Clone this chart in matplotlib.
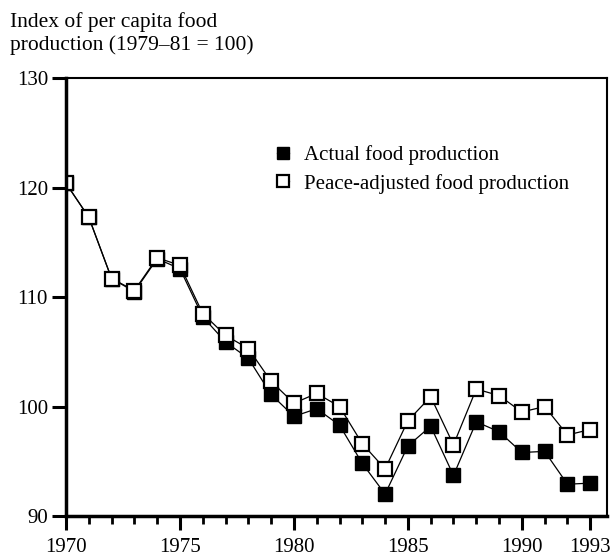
import numpy as np
import matplotlib
matplotlib.use('Agg')
import matplotlib.pyplot as plt

# years and index values
years = list(range(1970, 1994))
actual = [120.4, 117.3, 111.7, 110.5, 113.5, 112.6, 108.2, 105.9, 104.4, 101.1,
          99.1, 99.8, 98.3, 94.8, 92.0, 96.4, 98.2, 93.7, 98.6, 97.7,
          95.8, 95.9, 92.9, 93.0]
peace = [120.4, 117.3, 111.7, 110.6, 113.6, 112.9, 108.5, 106.5, 105.3, 102.3,
         100.3, 101.2, 100.0, 96.6, 94.3, 98.7, 100.9, 96.5, 101.6, 101.0,
         99.5, 100.0, 97.4, 97.9]
xticks = [1970, 1975, 1980, 1985, 1990, 1993]
yticks = [90, 100, 110, 120, 130]

plt.rcParams['font.family'] = ['Liberation Serif', 'DejaVu Serif']

fig = plt.figure(figsize=(6.11, 5.59), dpi=100)
ax = fig.add_axes([0.108, 0.077, 0.886, 0.783])

ax.plot(years, actual, color='black', lw=0.9, marker='s', markersize=10,
        markerfacecolor='black', markeredgecolor='black', label='Actual food production')
ax.plot(years, peace, color='black', lw=0.9, marker='s', markersize=10,
        markerfacecolor='white', markeredgecolor='black', markeredgewidth=1.6,
        label='Peace-adjusted food production')

ax.set_xlim(1970, 1993.75)
ax.set_ylim(90, 130)
ax.set_xticks(xticks)
ax.set_xticklabels([str(y) for y in xticks])
ax.set_xticks(years, minor=True)
ax.set_yticks(yticks)

for s in ['left', 'bottom']:
    ax.spines[s].set_linewidth(2.5)
for s in ['top', 'right']:
    ax.spines[s].set_linewidth(1.5)

ax.tick_params(axis='x', which='major', direction='out', length=10, width=2.2,
               labelsize=15, pad=6)
ax.tick_params(axis='x', which='minor', direction='out', length=6, width=2)
ax.tick_params(axis='y', which='major', direction='out', length=10, width=2.2,
               labelsize=15, pad=3)

ax.legend(loc='upper left', bbox_to_anchor=(0.355, 0.89), frameon=False,
          fontsize=15, handlelength=0.6, handletextpad=0.7, labelspacing=0.42,
          markerscale=0.85)

fig.text(0.016, 0.978, 'Index of per capita food\nproduction (1979\u201381 = 100)',
         fontsize=15.5, va='top', ha='left', linespacing=1.2)

fig.savefig('out.png', dpi=100)
